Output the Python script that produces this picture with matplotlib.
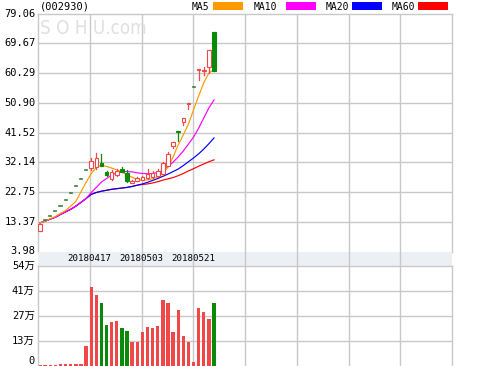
import matplotlib
matplotlib.use("Agg")
import matplotlib.pyplot as plt
from matplotlib.patches import Rectangle
import numpy as np

code_label = "(002930)"
price_ticks = [3.98, 13.37, 22.75, 32.14, 41.52, 50.90, 60.29, 69.67, 79.06]
price_tick_labels = ["3.98", "13.37", "22.75", "32.14", "41.52", "50.90", "60.29", "69.67", "79.06"]
vol_ticks = [0, 13.5, 27, 40.5, 54]
vol_tick_labels = ["0", "13万", "27万", "41万", "54万"]
date_labels = ["20180417", "20180503", "20180521"]
ma_names = ["MA5", "MA10", "MA20", "MA60"]

opens = [10.6, 13.8, 15.2, 16.7, 18.4, 20.2, 22.3, 24.5, 27.0, 29.6, 30.4, 30.6, 31.9, 29.0, 26.7,
         28.0, 30.0, 28.8, 25.6, 26.3, 26.6, 27.2, 27.4, 27.8, 28.4, 30.9, 37.4, 41.9, 44.8, 50.6,
         55.9, 61.2, 61.0, 62.3, 73.2]
highs = [12.6, 13.8, 15.2, 16.7, 18.4, 20.2, 22.3, 24.5, 27.0, 29.6, 33.5, 35.1, 34.8, 29.5, 29.8,
         30.1, 30.6, 29.6, 26.6, 27.4, 27.9, 30.0, 29.3, 30.0, 32.2, 35.4, 38.4, 42.0, 46.0, 50.8,
         55.9, 61.5, 62.2, 67.6, 73.2]
lows = [10.5, 13.8, 15.2, 16.7, 18.4, 20.2, 22.3, 24.5, 27.0, 29.6, 29.8, 30.1, 30.8, 27.9, 26.6,
        27.9, 29.0, 26.0, 25.5, 26.2, 26.5, 27.0, 27.3, 27.6, 28.2, 30.8, 36.7, 38.7, 43.9, 49.0,
        55.9, 58.2, 59.7, 60.2, 60.8]
closes = [12.6, 13.8, 15.2, 16.7, 18.4, 20.2, 22.3, 24.5, 27.0, 29.6, 32.6, 33.5, 30.9, 28.0, 29.1,
          29.5, 29.2, 26.2, 26.2, 27.1, 27.5, 28.4, 28.8, 29.3, 31.9, 34.8, 38.4, 41.7, 46.0, 50.8,
          55.9, 61.4, 61.2, 67.6, 60.8]
# volume in 万 shares
volumes = [0.2, 0.1, 0.1, 0.1, 0.6, 0.6, 0.6, 0.6, 0.6, 10.6, 42.8, 38.3, 33.8, 22.0, 23.4,
           24.2, 20.5, 18.7, 12.9, 12.9, 18.0, 21.1, 20.5, 21.4, 35.5, 33.8, 18.3, 30.1, 16.2, 12.9,
           1.7, 31.4, 29.0, 25.1, 33.8]
vol_rise = [1, 1, 1, 1, 1, 1, 1, 1, 1, 1, 1, 1, 0, 0, 1, 1, 0, 0, 1, 1, 1, 1, 1, 1, 1,
            1, 1, 1, 1, 1, 1, 1, 1, 1, 0]

ma5 = [13.0, 13.6, 14.3, 15.0, 16.0, 16.9, 18.3, 19.8, 22.8, 25.8, 28.5, 30.5, 31.2, 30.8, 30.3,
       29.7, 29.1, 28.1, 27.4, 26.7, 26.4, 26.6, 26.9, 27.5, 28.6, 30.7, 33.8, 37.6, 40.8, 44.2,
       48.7, 53.1, 57.2, 60.3, 61.3]
ma10 = [13.0, 13.6, 14.2, 14.8, 15.7, 16.5, 17.3, 18.3, 19.5, 20.7, 22.6, 24.2, 25.9, 27.0, 28.1,
        28.8, 29.2, 29.2, 29.1, 28.8, 28.6, 28.5, 28.6, 28.9, 29.6, 30.7, 32.2, 33.8, 35.7, 37.9,
        40.1, 42.9, 46.1, 49.3, 51.8]
ma20 = [13.0, 13.6, 14.2, 14.8, 15.7, 16.5, 17.3, 18.3, 19.5, 20.7, 22.0, 22.6, 23.0, 23.3, 23.6,
        23.8, 24.0, 24.2, 24.5, 24.9, 25.3, 25.8, 26.4, 27.0, 27.7, 28.4, 29.2, 30.0, 31.1, 32.3,
        33.5, 34.8, 36.3, 38.0, 39.8]
ma60 = [13.0, 13.6, 14.2, 14.8, 15.7, 16.5, 17.3, 18.3, 19.5, 20.7, 22.0, 22.6, 23.0, 23.3, 23.6,
        23.8, 24.0, 24.2, 24.5, 24.9, 25.1, 25.3, 25.6, 26.0, 26.5, 26.9, 27.3, 27.9, 28.6, 29.4,
        30.1, 30.9, 31.6, 32.3, 32.9]

RED = "#f04848"
GREEN = "#0a8a0a"
GRID = "#c8c8c8"
MA_COLORS = ["#ff9900", "#ff00ff", "#0000ff", "#ff0000"]
MONO = "DejaVu Sans Mono"
CJK = [MONO, "Noto Sans CJK SC"]

W, H = 499, 366
fig = plt.figure(figsize=(W / 100, H / 100), dpi=100)


def frac_box(left, top, right, bottom):
    return [left / W, 1 - bottom / H, (right - left) / W, (bottom - top) / H]


x0, x1 = -0.4, 80.5
vgrid = np.linspace(x0, x1, 9)[1:-1]

ax = fig.add_axes(frac_box(38, 13.5, 452, 251.5))
band = fig.add_axes(frac_box(38, 251.5, 452, 265.5))
axv = fig.add_axes(frac_box(38, 266, 452, 365.5))

for a in (ax, band, axv):
    a.set_xlim(x0, x1)
    a.set_xticks([])
    a.set_yticks([])
    for s in a.spines.values():
        s.set_color(GRID)
        s.set_linewidth(1)

# price panel
ax.set_ylim(price_ticks[0], price_ticks[-1])
for v in price_ticks[1:-1]:
    ax.axhline(v, color=GRID, lw=1, zorder=0)
for gx in vgrid:
    ax.axvline(gx, color=GRID, lw=1, zorder=0)
ax.spines["bottom"].set_visible(False)
ax.text(0.004, 0.935, "S O H U.com", transform=ax.transAxes, fontsize=13.5,
        color="#e0e0e0", family="DejaVu Sans", stretch="condensed", zorder=0.2,
        va="center")

idx = np.arange(len(closes))
for name, vals, col in zip(ma_names[::-1], [ma60, ma20, ma10, ma5], MA_COLORS[::-1]):
    ax.plot(idx, vals, color=col, lw=0.85, zorder=2)

cw = 0.7
for i in idx:
    o, h, l, c = opens[i], highs[i], lows[i], closes[i]
    if h == l:
        ax.plot([i - 0.2, i + 0.2], [c, c], color="#3c7a3c", lw=1.2, zorder=3)
        continue
    col = RED if c >= o else GREEN
    ax.plot([i, i], [l, h], color=col, lw=0.9, zorder=3)
    bottom, height = min(o, c), max(abs(c - o), 0.15)
    face = "white" if c >= o else GREEN
    ax.add_patch(Rectangle((i - cw / 2, bottom), cw, height, facecolor=face,
                           edgecolor=col, lw=0.8, zorder=4))

for v, lab in zip(price_ticks, price_tick_labels):
    ax.text(-0.006, (v - price_ticks[0]) / (price_ticks[-1] - price_ticks[0]), lab,
            transform=ax.transAxes, ha="right", va="center", fontsize=7.5, family=MONO)

# date band
band.set_facecolor("#eceff4")
band.set_ylim(0, 1)
for s in ("left", "right", "top", "bottom"):
    band.spines[s].set_visible(False)
for gx in vgrid:
    band.axvline(gx, color=GRID, lw=1, zorder=0)
for gx, lab in zip(vgrid, date_labels):
    band.text(gx, 0.5, lab, ha="center", va="center", fontsize=6.6, family=MONO)

# volume panel
axv.set_ylim(vol_ticks[0], vol_ticks[-1])
axv.spines["bottom"].set_visible(False)
for v in vol_ticks[1:-1]:
    axv.axhline(v, color=GRID, lw=1, zorder=0)
for gx in vgrid:
    axv.axvline(gx, color=GRID, lw=1, zorder=0)
axv.bar(idx, volumes, width=0.66, color=[RED if r else GREEN for r in vol_rise], zorder=2)
for v, lab in zip(vol_ticks, vol_tick_labels):
    yy = v / vol_ticks[-1]
    axv.text(-0.008, yy if v else 0.045, lab, transform=axv.transAxes, ha="right",
             va="center", fontsize=7.5, family=CJK)

# header: code and legend
fig.text(40 / W, 1 - 6.5 / H, code_label, fontsize=7.5, family=MONO, va="center")
legend_x = [(192, 213), (254, 286), (326, 352), (392, 418)]
for (tx, rx), name, col in zip(legend_x, ma_names, MA_COLORS):
    fig.text(tx / W, 1 - 6.5 / H, name, fontsize=7, family=MONO, va="center")
    fig.patches.append(Rectangle((rx / W, 1 - 9.5 / H), 30 / W, 7.5 / H, facecolor=col,
                                 edgecolor="none", transform=fig.transFigure, figure=fig))

fig.savefig("out.png", dpi=100)
